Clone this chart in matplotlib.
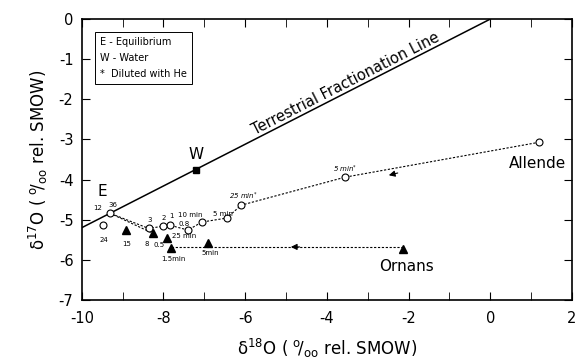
import matplotlib.pyplot as plt
import numpy as np

# terrestrial fractionation line (slope 0.52 through origin)
tfl_x = [-10.0, 0.0]
tfl_y = [-5.2, 0.0]

# Allende path (open circles)
allende_x = [1.2, -3.55, -6.1, -6.45, -7.06, -7.4, -7.84, -8.0, -8.36, -9.31]
allende_y = [-3.07, -3.94, -4.64, -4.96, -5.06, -5.26, -5.14, -5.16, -5.22, -4.84]
extra_circ_x = [-9.49]
extra_circ_y = [-5.14]

# Ornans path (filled triangles)
ornans_x = [-2.13, -6.9, -7.82, -7.92, -8.26, -8.92]
ornans_y = [-5.74, -5.58, -5.71, -5.46, -5.34, -5.26]
ornans_line_x = [-2.13, -7.8]
ornans_line_y = [-5.68, -5.68]
tri_link_x = [-9.31, -8.26]
tri_link_y = [-4.84, -5.34]

water_x, water_y = -7.2, -3.75

small_labels = [
    ("12", -9.6, -4.72), ("36", -9.25, -4.64), ("24", -9.45, -5.5),
    ("15", -8.9, -5.6), ("3", -8.35, -5.0), ("2", -8.0, -4.97),
    ("1", -7.8, -4.92), ("0.8", -7.5, -5.12), ("10 min", -7.35, -4.88),
    ("5 min", -6.55, -4.85), ("8", -8.4, -5.6), ("0.5", -8.1, -5.62),
    ("25 min", -7.5, -5.42), ("1.5min", -7.75, -5.98), ("5min", -6.85, -5.82),
]
italic_labels = [("25 min$^{*}$", -6.05, -4.42), ("5 min$^{*}$", -3.55, -3.75)]

unit = r"( $^{\mathrm{o}}\!/_{\mathrm{oo}}$ rel. SMOW)"

fig, ax = plt.subplots(figsize=(5.76, 3.6), dpi=100)
fig.subplots_adjust(left=0.142, right=0.993, top=0.947, bottom=0.167)

ax.plot(tfl_x, tfl_y, color="black", lw=1.1)
ax.plot(allende_x, allende_y, ls=(0, (2, 1.5)), color="black", lw=0.8)
ax.plot(ornans_line_x, ornans_line_y, ls=(0, (2, 1.5)), color="black", lw=0.8)
ax.plot(tri_link_x, tri_link_y, ls=(0, (2, 1.5)), color="black", lw=0.8)
ax.plot(allende_x, allende_y, "o", mfc="white", mec="black", ms=5, mew=0.8)
ax.plot(extra_circ_x, extra_circ_y, "o", mfc="white", mec="black", ms=5, mew=0.8)
ax.plot(ornans_x, ornans_y, "^", color="black", ms=6)
ax.plot(water_x, water_y, "s", color="black", ms=5)

# direction arrows
ax.annotate("", xy=(-2.55, -3.91), xytext=(-2.2, -3.82),
            arrowprops=dict(arrowstyle="-|>", color="black", lw=0.8, mutation_scale=9))
ax.annotate("", xy=(-4.95, -5.68), xytext=(-4.6, -5.68),
            arrowprops=dict(arrowstyle="-|>", color="black", lw=0.8, mutation_scale=9))

for t, x, y in small_labels:
    ax.text(x, y, t, fontsize=5, ha="center", va="center")
for t, x, y in italic_labels:
    ax.text(x, y, t, fontsize=5, ha="center", va="center", style="italic")

ax.text(-9.5, -4.3, "E", fontsize=11, ha="center", va="center")
ax.text(-7.2, -3.38, "W", fontsize=11, ha="center", va="center")
ax.text(1.15, -3.6, "Allende", fontsize=11, ha="center", va="center")
ax.text(-2.05, -6.16, "Ornans", fontsize=11, ha="center", va="center")
ax.text(-3.55, -1.6, "Terrestrial Fractionation Line", fontsize=10.5,
        ha="center", va="center", rotation=27, rotation_mode="anchor")

ax.text(-9.55, -0.45, "E - Equilibrium\nW - Water\n*  Diluted with He", fontsize=7,
        ha="left", va="top", linespacing=1.75,
        bbox=dict(boxstyle="square,pad=0.5", fc="white", ec="black", lw=0.7))

ax.set_xlim(-10, 2)
ax.set_ylim(-7, 0)
ax.set_xticks(np.arange(-10, 3, 2))
ax.set_xticks(np.arange(-10, 3, 1), minor=True)
ax.set_yticks(np.arange(-7, 1, 1))
ax.tick_params(direction="in", top=True, right=True, which="both", labelsize=10.5, length=6)
ax.tick_params(axis="x", pad=8)
ax.tick_params(axis="y", pad=6)
ax.set_yticklabels([str(v) for v in range(-7, 1)])
ax.set_xticklabels([str(v) for v in range(-10, 3, 2)])
for s in ax.spines.values():
    s.set_linewidth(1.2)

ax.set_xlabel("δ$^{18}$O " + unit, fontsize=12, labelpad=8)
ax.set_ylabel("δ$^{17}$O " + unit, fontsize=12, labelpad=6)

plt.savefig("out.png", dpi=100)
